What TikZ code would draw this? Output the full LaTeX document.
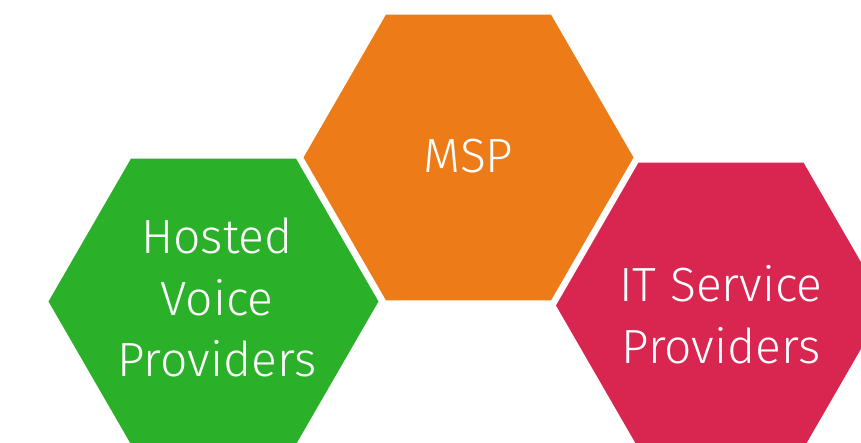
\documentclass[tikz,border=0pt]{standalone}
\usepackage{fontspec}
\setmainfont{Fira Sans Light}
\usetikzlibrary{shapes.geometric,calc}

\definecolor{hexgreen}{RGB}{43,176,42}
\definecolor{hexorange}{RGB}{236,123,24}
\definecolor{hexred}{RGB}{216,38,80}

\begin{document}
\begin{tikzpicture}[x=1pt,y=1pt,
  hexcell/.style={regular polygon,regular polygon sides=6,minimum size=330pt,inner sep=0pt,outer sep=0pt},
  hexlabel/.style={text=white,align=center,inner sep=0pt,font=\fontsize{48}{61.5}\selectfont}]
\useasboundingbox (0,0) rectangle (861,442);
\clip (0,0) rectangle (861,442);

\draw node [hexcell,fill=hexgreen] (voice) at (213.5,140.5) {};
\draw node [hexlabel] (voicetext) at ($(voice)+(3.5,4)$) {Hosted\\Voice\\Providers};

\draw node [hexcell,fill=hexorange] (msp) at (468.5,284.5) {};
\draw node [hexlabel] (msptext) at ($(msp)+(0,1)$) {MSP};

\draw node [hexcell,fill=hexred] (itsp) at (721,136.5) {};
\draw node [hexlabel] (itsptext) at ($(itsp)+(0,-9)$) {IT Service\\Providers};

\end{tikzpicture}
\end{document}
